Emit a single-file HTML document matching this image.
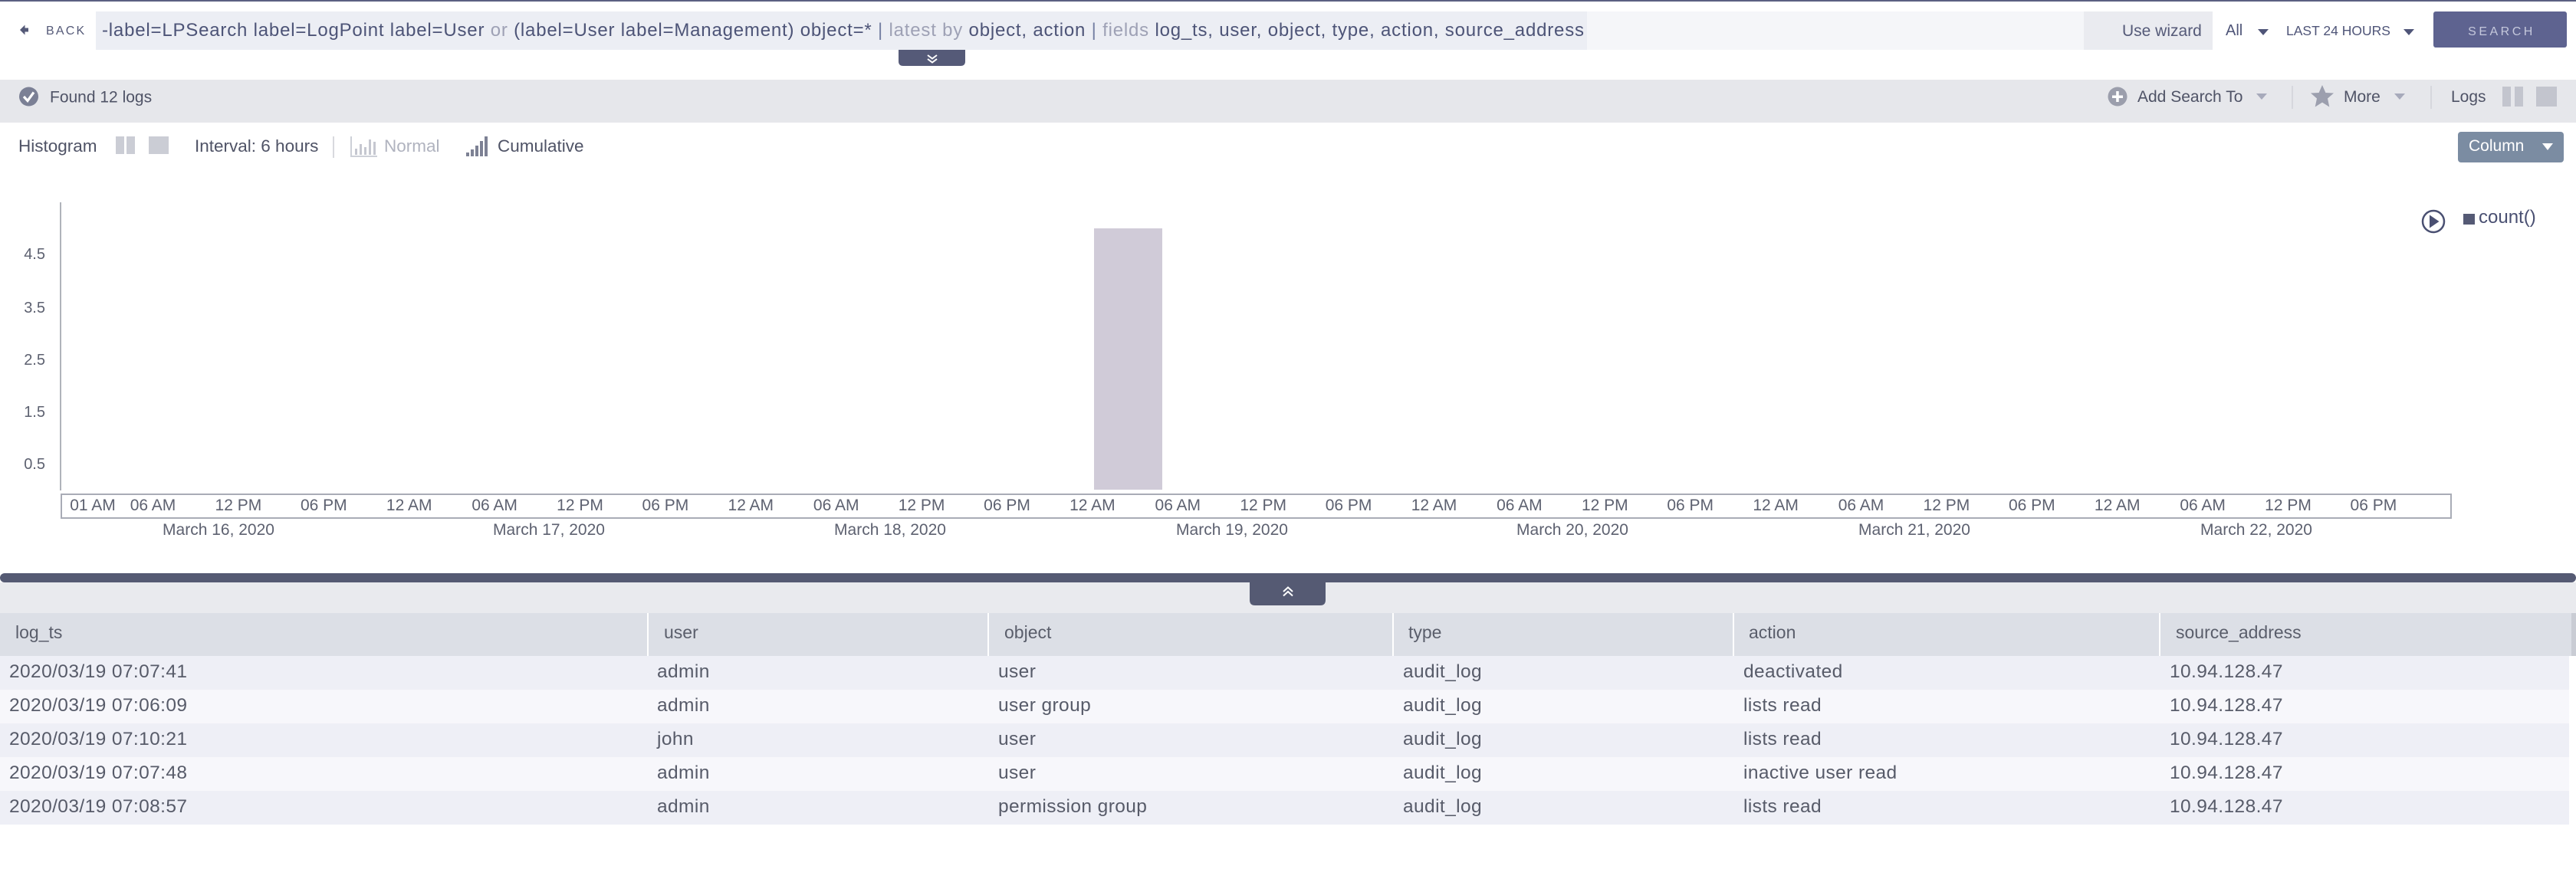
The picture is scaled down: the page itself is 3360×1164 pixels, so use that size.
<!DOCTYPE html>
<html><head><meta charset="utf-8">
<style>
html,body{margin:0;padding:0;background:#fff;width:3360px;height:1164px;overflow:hidden;}
svg{display:block;}
text{font-family:"Liberation Sans",sans-serif;}
</style></head><body>
<svg width="3360" height="1164" viewBox="0 0 3360 1164" xmlns="http://www.w3.org/2000/svg">
<rect width="3360" height="1164" fill="#fff"/>
<!-- top line -->
<rect x="0" y="0" width="3360" height="2" fill="#5b6082"/>

<!-- BACK -->
<path d="M26 39 L32.5 32.5 L32.5 36.5 L37 36.5 L37 41.5 L32.5 41.5 L32.5 45.5 Z" fill="#555a78"/>
<text x="60" y="45" font-size="16" letter-spacing="2.2" fill="#555a78">BACK</text>

<!-- search box -->
<rect x="125" y="15" width="1945" height="50" fill="#eceef4"/>
<rect x="2070" y="15" width="648" height="50" fill="#f5f6f9"/>
<rect x="2718" y="15" width="168" height="50" fill="#eaebf0"/>
<text x="133" y="47" font-size="24" textLength="1933" lengthAdjust="spacing" fill="#4d5477">-label=LPSearch label=LogPoint label=User <tspan fill="#9ea1b5">or</tspan> (label=User label=Management) object=* <tspan fill="#7580a3">|</tspan> <tspan fill="#9ea1b5">latest by</tspan> object, action <tspan fill="#7580a3">|</tspan> <tspan fill="#9ea1b5">fields</tspan> log_ts, user, object, type, action, source_address</text>

<!-- right controls -->
<text x="2768" y="47" font-size="21" fill="#555a78">Use wizard</text>
<text x="2903" y="46" font-size="20" fill="#4f5578">All</text>
<polygon points="2945,38 2959,38 2952,46" fill="#4f5578"/>
<text x="2982" y="46" font-size="17.5" textLength="136" lengthAdjust="spacingAndGlyphs" fill="#4f5578">LAST 24 HOURS</text>
<polygon points="3135,38 3149,38 3142,46" fill="#4f5578"/>
<rect x="3174" y="15" width="174" height="47" rx="3" fill="#5e6390"/>
<text x="3263" y="46" font-size="16" letter-spacing="3.5" text-anchor="middle" fill="#c5c8dc">SEARCH</text>

<!-- expand tab -->
<path d="M1172 65 H1259 V80 Q1259 86 1253 86 H1178 Q1172 86 1172 80 Z" fill="#555a78"/>
<polyline points="1210,72 1216,76.5 1222,72" stroke="#fff" stroke-width="2" fill="none"/>
<polyline points="1210,77 1216,81.5 1222,77" stroke="#fff" stroke-width="2" fill="none"/>

<!-- gray status bar -->
<rect x="0" y="104" width="3360" height="56" fill="#e6e7eb"/>
<circle cx="37.5" cy="126" r="12.5" fill="#7b8095"/>
<polyline points="31,126 36,131.5 44,120.5" stroke="#fff" stroke-width="3.2" fill="none"/>
<text x="65" y="133.5" font-size="21" fill="#4f5366">Found 12 logs</text>

<circle cx="2762" cy="126" r="12.5" fill="#9b9eac"/>
<rect x="2755" y="124.5" width="14" height="3.5" fill="#fff"/>
<rect x="2760.2" y="119" width="3.5" height="14" fill="#fff"/>
<text x="2788" y="133" font-size="21" fill="#4f5366">Add Search To</text>
<polygon points="2943,122 2957,122 2950,130" fill="#a7aabb"/>
<line x1="2990" y1="112" x2="2990" y2="142" stroke="#d6d7dd" stroke-width="2"/>
<polygon points="3029,111 3033.4,121 3044,121.5 3036,128.5 3038.3,139.5 3029,133.6 3019.7,139.5 3022,128.5 3014,121.5 3024.6,121" fill="#9c9fae"/>
<text x="3057" y="133" font-size="21" fill="#4f5366">More</text>
<polygon points="3123,122 3137,122 3130,130" fill="#a7aabb"/>
<line x1="3171" y1="112" x2="3171" y2="142" stroke="#d6d7dd" stroke-width="2"/>
<text x="3197" y="133" font-size="21" fill="#4f5366">Logs</text>
<rect x="3264" y="113" width="11" height="26" fill="#c3c5ce"/>
<rect x="3280" y="113" width="11" height="26" fill="#c3c5ce"/>
<rect x="3308" y="113" width="27" height="26" fill="#c3c5ce"/>

<!-- histogram toolbar -->
<text x="24" y="198" font-size="22.5" fill="#4f5366">Histogram</text>
<rect x="151" y="178" width="11" height="23" fill="#cbcdd5"/>
<rect x="165" y="178" width="11" height="23" fill="#cbcdd5"/>
<rect x="194" y="178" width="26" height="23" fill="#cbcdd5"/>
<text x="254" y="198" font-size="22.5" fill="#4f5366">Interval: 6 hours</text>
<line x1="435" y1="178" x2="435" y2="206" stroke="#d8d9de" stroke-width="2"/>
<polyline points="458,178 458,204 492,204" stroke="#cdd0d8" stroke-width="2" fill="none"/>
<rect x="463" y="194" width="3" height="8" fill="#c5c7d0"/>
<rect x="469" y="188" width="3" height="14" fill="#c5c7d0"/>
<rect x="475" y="192" width="3" height="10" fill="#c5c7d0"/>
<rect x="481" y="182" width="3" height="20" fill="#c5c7d0"/>
<rect x="487" y="185" width="3" height="17" fill="#c5c7d0"/>
<text x="501" y="198" font-size="22.5" fill="#b0b3bf">Normal</text>
<rect x="608" y="199" width="4" height="5" fill="#7d8194"/>
<rect x="614" y="195" width="4" height="9" fill="#7d8194"/>
<rect x="620" y="190" width="4" height="14" fill="#7d8194"/>
<rect x="626" y="184" width="4" height="20" fill="#7d8194"/>
<rect x="632" y="178" width="4" height="26" fill="#7d8194"/>
<text x="649" y="198" font-size="22.5" fill="#4f5366">Cumulative</text>

<rect x="3206" y="172" width="138" height="40" rx="4" fill="#7b8ca2"/>
<text x="3220" y="197" font-size="21" fill="#fff">Column</text>
<polygon points="3316,187 3330,187 3323,196" fill="#fff"/>

<!-- chart -->
<line x1="79" y1="264" x2="79" y2="640" stroke="#b0b3bb" stroke-width="2"/>
<g font-size="20" fill="#5d6170" text-anchor="end">
<text x="59" y="338">4.5</text>
<text x="59" y="408">3.5</text>
<text x="59" y="476">2.5</text>
<text x="59" y="544">1.5</text>
<text x="59" y="612">0.5</text>
</g>
<rect x="1427" y="298" width="89" height="341" fill="#d0cbd8"/>
<rect x="80" y="645" width="3117" height="31" fill="none" stroke="#a9acb6" stroke-width="2"/>
<g font-size="21" fill="#5d6170" text-anchor="middle">
<text x="121" y="666">01 AM</text>
<text x="199.5" y="666">06 AM</text>
<text x="310.9" y="666">12 PM</text>
<text x="422.3" y="666">06 PM</text>
<text x="533.7" y="666">12 AM</text>
<text x="645.1" y="666">06 AM</text>
<text x="756.5" y="666">12 PM</text>
<text x="867.9" y="666">06 PM</text>
<text x="979.3" y="666">12 AM</text>
<text x="1090.7" y="666">06 AM</text>
<text x="1202.1" y="666">12 PM</text>
<text x="1313.5" y="666">06 PM</text>
<text x="1424.9" y="666">12 AM</text>
<text x="1536.3" y="666">06 AM</text>
<text x="1647.7" y="666">12 PM</text>
<text x="1759.1" y="666">06 PM</text>
<text x="1870.5" y="666">12 AM</text>
<text x="1981.9" y="666">06 AM</text>
<text x="2093.3" y="666">12 PM</text>
<text x="2204.7" y="666">06 PM</text>
<text x="2316.1" y="666">12 AM</text>
<text x="2427.5" y="666">06 AM</text>
<text x="2538.9" y="666">12 PM</text>
<text x="2650.3" y="666">06 PM</text>
<text x="2761.7" y="666">12 AM</text>
<text x="2873.1" y="666">06 AM</text>
<text x="2984.5" y="666">12 PM</text>
<text x="3095.9" y="666">06 PM</text>
<text x="285" y="698">March 16, 2020</text>
<text x="716" y="698">March 17, 2020</text>
<text x="1161" y="698">March 18, 2020</text>
<text x="1607" y="698">March 19, 2020</text>
<text x="2051" y="698">March 20, 2020</text>
<text x="2497" y="698">March 21, 2020</text>
<text x="2943" y="698">March 22, 2020</text>
</g>

<!-- legend -->
<circle cx="3174" cy="289" r="14" stroke="#4a5072" stroke-width="2.5" fill="none"/>
<polygon points="3169,280.5 3181.5,289 3169,297.5" fill="#4a5072"/>
<rect x="3213" y="279" width="15" height="14" fill="#555a75"/>
<text x="3233" y="291" font-size="24" fill="#4a5072">count()</text>

<!-- splitter -->
<rect x="0" y="748" width="3360" height="12" rx="6" fill="#555a73"/>
<rect x="0" y="760" width="3360" height="40" fill="#e9eaee"/>
<path d="M1630 759 H1729 V783 Q1729 790 1722 790 H1637 Q1630 790 1630 783 Z" fill="#555a73"/>
<polyline points="1674,772 1680,766.5 1686,772" stroke="#fff" stroke-width="2" fill="none"/>
<polyline points="1674,777.5 1680,772 1686,777.5" stroke="#fff" stroke-width="2" fill="none"/>

<!-- table header -->
<rect x="0" y="800" width="3360" height="56" fill="#dcdfe6"/>
<rect x="3354" y="800" width="6" height="56" fill="#c9ccd4"/>
<g fill="#fff">
<rect x="844" y="800" width="2" height="56"/>
<rect x="1288" y="800" width="2" height="56"/>
<rect x="1816" y="800" width="2" height="56"/>
<rect x="2260" y="800" width="2" height="56"/>
<rect x="2816" y="800" width="2" height="56"/>
</g>
<g font-size="23" fill="#5a5e6b">
<text x="20" y="833">log_ts</text>
<text x="866" y="833">user</text>
<text x="1310" y="833">object</text>
<text x="1837" y="833">type</text>
<text x="2281" y="833">action</text>
<text x="2838" y="833">source_address</text>
</g>

<!-- rows -->
<rect x="0" y="856" width="3351" height="44" fill="#eeeff6"/>
<rect x="0" y="900" width="3351" height="44" fill="#f7f7fb"/>
<rect x="0" y="944" width="3351" height="44" fill="#eeeff6"/>
<rect x="0" y="988" width="3351" height="44" fill="#f7f7fb"/>
<rect x="0" y="1032" width="3351" height="44" fill="#eeeff6"/>
<g font-size="24.5" fill="#575b69" letter-spacing="0.4">
<text x="12" y="884">2020/03/19 07:07:41</text>
<text x="857" y="884">admin</text>
<text x="1302" y="884">user</text>
<text x="1830" y="884">audit_log</text>
<text x="2274" y="884">deactivated</text>
<text x="2830" y="884">10.94.128.47</text>

<text x="12" y="928">2020/03/19 07:06:09</text>
<text x="857" y="928">admin</text>
<text x="1302" y="928">user group</text>
<text x="1830" y="928">audit_log</text>
<text x="2274" y="928">lists read</text>
<text x="2830" y="928">10.94.128.47</text>

<text x="12" y="972">2020/03/19 07:10:21</text>
<text x="857" y="972">john</text>
<text x="1302" y="972">user</text>
<text x="1830" y="972">audit_log</text>
<text x="2274" y="972">lists read</text>
<text x="2830" y="972">10.94.128.47</text>

<text x="12" y="1016">2020/03/19 07:07:48</text>
<text x="857" y="1016">admin</text>
<text x="1302" y="1016">user</text>
<text x="1830" y="1016">audit_log</text>
<text x="2274" y="1016">inactive user read</text>
<text x="2830" y="1016">10.94.128.47</text>

<text x="12" y="1060">2020/03/19 07:08:57</text>
<text x="857" y="1060">admin</text>
<text x="1302" y="1060">permission group</text>
<text x="1830" y="1060">audit_log</text>
<text x="2274" y="1060">lists read</text>
<text x="2830" y="1060">10.94.128.47</text>
</g>
</svg>
</body></html>
